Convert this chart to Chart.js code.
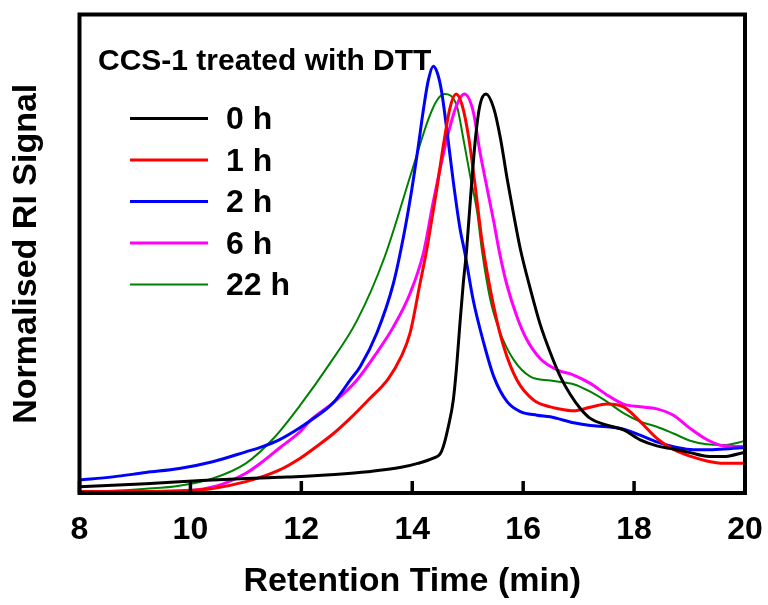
<!DOCTYPE html>
<html>
<head>
<meta charset="utf-8">
<script src="https://cdn.jsdelivr.net/npm/chart.js@4.4.1/dist/chart.umd.min.js"></script>
<style>
  html, body { margin: 0; padding: 0; background: #fff; }
  #wrap { width: 768px; height: 605px; }
</style>
</head>
<body>
<div id="wrap"><canvas id="chart"></canvas></div>
<script>
// retention time (min) and normalised RI signal
const t0h = [8.0, 8.6, 9.2, 9.8, 10.4, 11.0, 11.6, 12.0, 12.6, 13.2, 13.8, 14.1, 14.38, 14.5, 14.56, 14.65, 14.74, 14.8, 14.86, 14.92, 14.98, 15.05, 15.14, 15.22, 15.33, 15.47, 15.59, 15.71, 15.83, 15.95, 16.13, 16.31, 16.49, 16.67, 16.85, 17.03, 17.21, 17.51, 17.81, 18.11, 18.41, 18.71, 19.01, 19.31, 19.61, 20.0];
const s0h = [0.013, 0.017, 0.021, 0.026, 0.03, 0.034, 0.037, 0.039, 0.044, 0.051, 0.062, 0.072, 0.085, 0.095, 0.114, 0.164, 0.231, 0.315, 0.424, 0.524, 0.608, 0.738, 0.889, 0.972, 1.0, 0.964, 0.889, 0.788, 0.696, 0.61, 0.51, 0.42, 0.35, 0.29, 0.245, 0.21, 0.185, 0.168, 0.156, 0.131, 0.116, 0.108, 0.099, 0.09, 0.089, 0.1];

const t1h = [8.0, 8.6, 9.2, 9.8, 10.4, 11.0, 11.6, 11.98, 12.28, 12.58, 12.88, 13.2, 13.57, 13.8, 13.96, 14.14, 14.26, 14.35, 14.43, 14.56, 14.68, 14.79, 14.9, 15.02, 15.14, 15.26, 15.47, 15.65, 15.89, 16.19, 16.49, 16.61, 16.91, 17.21, 17.51, 17.81, 18.11, 18.41, 18.71, 19.01, 19.31, 19.61, 20.0];
const s1h = [0.001, 0.001, 0.001, 0.003, 0.009, 0.026, 0.055, 0.085, 0.115, 0.147, 0.185, 0.23, 0.285, 0.34, 0.399, 0.524, 0.608, 0.683, 0.75, 0.87, 0.965, 1.0, 0.972, 0.889, 0.763, 0.629, 0.466, 0.365, 0.281, 0.231, 0.214, 0.21, 0.204, 0.213, 0.221, 0.214, 0.177, 0.135, 0.107, 0.09, 0.078, 0.072, 0.072];

const t2h = [8.0, 8.6, 9.2, 9.8, 10.4, 11.0, 11.3, 11.6, 11.98, 12.14, 12.58, 12.88, 13.06, 13.36, 13.66, 13.84, 13.98, 14.1, 14.2, 14.29, 14.38, 14.46, 14.53, 14.62, 14.74, 14.86, 14.95, 15.1, 15.29, 15.47, 15.71, 15.95, 16.25, 16.49, 16.61, 16.91, 17.21, 17.51, 17.81, 18.11, 18.41, 18.71, 19.01, 19.31, 19.61, 20.0];
const s2h = [0.03, 0.038, 0.049, 0.059, 0.076, 0.101, 0.114, 0.131, 0.162, 0.177, 0.225, 0.281, 0.315, 0.399, 0.524, 0.64, 0.75, 0.86, 0.96, 1.035, 1.07, 1.05, 1.006, 0.914, 0.78, 0.663, 0.6, 0.482, 0.374, 0.29, 0.227, 0.202, 0.193, 0.189, 0.185, 0.174, 0.167, 0.164, 0.158, 0.143, 0.126, 0.114, 0.107, 0.106, 0.108, 0.112];

const t6h = [8.0, 9.0, 9.62, 10.1, 10.58, 11.0, 11.3, 11.6, 11.98, 12.14, 12.58, 13.0, 13.36, 13.66, 13.96, 14.2, 14.38, 14.62, 14.8, 14.94, 15.1, 15.22, 15.35, 15.47, 15.57, 15.7, 15.89, 16.07, 16.31, 16.61, 16.91, 17.21, 17.51, 17.81, 18.11, 18.41, 18.71, 19.01, 19.31, 19.61, 20.0];
const s6h = [0.0, 0.0, 0.001, 0.005, 0.02, 0.047, 0.076, 0.11, 0.152, 0.177, 0.225, 0.281, 0.35, 0.415, 0.499, 0.6, 0.73, 0.885, 0.972, 1.0, 0.956, 0.855, 0.763, 0.679, 0.604, 0.524, 0.44, 0.382, 0.335, 0.307, 0.294, 0.273, 0.244, 0.221, 0.214, 0.209, 0.193, 0.16, 0.132, 0.116, 0.114];

const t22h = [8.0, 8.6, 9.2, 9.8, 10.4, 11.0, 11.5, 12.0, 12.5, 13.0, 13.5, 14.0, 14.3, 14.45, 14.58, 14.8, 14.92, 15.05, 15.17, 15.26, 15.41, 15.59, 15.83, 16.13, 16.49, 16.91, 17.21, 17.51, 17.81, 18.11, 18.41, 18.71, 19.01, 19.31, 19.61, 20.0];
const s22h = [0.001, 0.003, 0.008, 0.016, 0.034, 0.072, 0.135, 0.222, 0.32, 0.43, 0.59, 0.81, 0.94, 0.985, 1.0, 0.972, 0.889, 0.79, 0.704, 0.604, 0.482, 0.399, 0.332, 0.29, 0.28, 0.271, 0.252, 0.227, 0.198, 0.177, 0.164, 0.147, 0.129, 0.12, 0.118, 0.128];

const seriesLabels = ['0 h', '1 h', '2 h', '6 h', '22 h'];
const xTicks = [8, 10, 12, 14, 16, 18, 20];
const noteText = 'CCS-1 treated with DTT';

const FONT = '"Liberation Sans", Arial, sans-serif';
const pts = (t, s) => t.map((v, i) => ({ x: v, y: s[i] }));

const line = (label, t, s, color, width) => ({
  label,
  data: pts(t, s),
  borderColor: color,
  backgroundColor: color,
  borderWidth: width,
  pointRadius: 0,
  cubicInterpolationMode: 'monotone',
  fill: false
});

// frame, inward ticks, note and legend inside the plot
const framePlugin = {
  id: 'frame',
  afterDatasetsDraw(chart) {
    const { ctx, chartArea: a, scales: { x } } = chart;
    ctx.save();
    ctx.strokeStyle = '#000';
    ctx.lineWidth = 4;
    ctx.strokeRect(a.left, a.top, a.right - a.left, a.bottom - a.top);
    ctx.lineWidth = 3.5;
    xTicks.forEach(v => {
      const px = x.getPixelForValue(v);
      ctx.beginPath();
      ctx.moveTo(px, a.bottom);
      ctx.lineTo(px, a.bottom - 12);
      ctx.stroke();
    });
    ctx.fillStyle = '#000';
    ctx.textBaseline = 'middle';
    ctx.font = 'bold 30px ' + FONT;
    ctx.fillText(noteText, 98, 62);
    ctx.font = 'bold 32px ' + FONT;
    chart.data.datasets.forEach((ds, i) => {
      const y = 118.5 + i * 41.5;
      ctx.strokeStyle = ds.borderColor;
      ctx.lineWidth = ds.borderWidth;
      ctx.beginPath();
      ctx.moveTo(130, y);
      ctx.lineTo(208, y);
      ctx.stroke();
      ctx.fillText(ds.label, 226, y + 2);
    });
    ctx.restore();
  }
};

new Chart(document.getElementById('chart'), {
  type: 'line',
  data: {
    datasets: [
      line(seriesLabels[0], t0h, s0h, '#000000', 3),
      line(seriesLabels[1], t1h, s1h, '#ff0000', 3),
      line(seriesLabels[2], t2h, s2h, '#0000ff', 3),
      line(seriesLabels[3], t6h, s6h, '#ff00ff', 3),
      line(seriesLabels[4], t22h, s22h, '#008000', 2)
    ]
  },
  options: {
    responsive: true,
    maintainAspectRatio: false,
    animation: false,
    layout: {
      padding: { top: 14.5, right: 23, left: 0, bottom: 0 }
    },
    plugins: {
      legend: { display: false },
      tooltip: { enabled: false }
    },
    scales: {
      x: {
        type: 'linear',
        min: 8,
        max: 20,
        afterFit: (s) => { s.height = 112; s.paddingLeft = 0; s.paddingRight = 0; },
        afterBuildTicks: (s) => { s.ticks = xTicks.map(v => ({ value: v })); },
        grid: { display: false, drawTicks: false },
        border: { display: false },
        ticks: {
          color: '#000',
          padding: 18,
          font: { family: FONT, size: 32, weight: 'bold' }
        },
        title: {
          display: true,
          text: 'Retention Time (min)',
          color: '#000',
          padding: { top: 0, bottom: 3 },
          font: { family: FONT, size: 34, weight: 'bold' }
        }
      },
      y: {
        min: -0.0025,
        max: 1.2,
        afterFit: (s) => { s.width = 79.5; },
        grid: { display: false, drawTicks: false },
        border: { display: false },
        ticks: { display: false },
        title: {
          display: true,
          text: 'Normalised RI Signal',
          color: '#000',
          padding: { top: 6, bottom: 0 },
          font: { family: FONT, size: 34, weight: 'bold' }
        }
      }
    }
  },
  plugins: [framePlugin]
});
</script>
</body>
</html>
